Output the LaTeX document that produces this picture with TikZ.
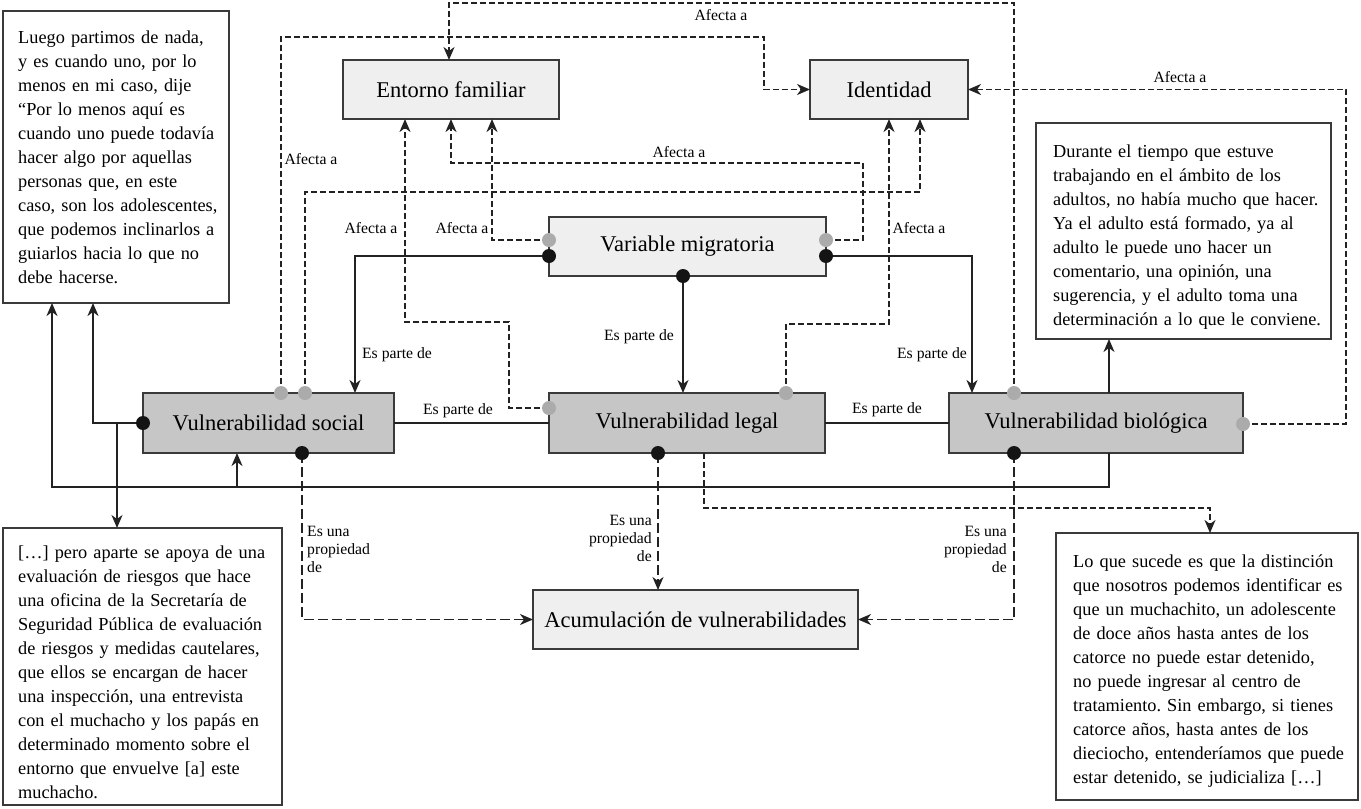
\documentclass[tikz,border=0pt]{standalone}
\usepackage{fontspec}
\setmainfont{Liberation Serif}
\usetikzlibrary{arrows.meta}
\frenchspacing

\definecolor{edgegrey}{HTML}{3A3A3A}
\definecolor{palefill}{HTML}{EFEFEF}
\definecolor{vulnfill}{HTML}{C6C6C6}
\definecolor{dotgrey}{HTML}{ABABAB}
\definecolor{inkline}{HTML}{222222}

\begin{document}
\begin{tikzpicture}[x=1pt,y=-1pt,
  box/.style={draw=edgegrey, line width=1.5pt, inner sep=0pt, outer sep=0pt,
    font=\fontsize{22.5}{27}\selectfont},
  pale/.style={box, fill=palefill},
  vuln/.style={box, fill=vulnfill},
  qbox/.style={draw=edgegrey, line width=1.5pt, fill=white, inner sep=0pt, outer sep=0pt},
  qtext/.style={anchor=base west, inner sep=0pt, align=left, text width=300pt,
    font=\fontsize{18.3}{24}\selectfont},
  lbl/.style={inner sep=0pt, font=\fontsize{15.7}{18}\selectfont},
  link/.style={draw=inkline, line width=1.5pt},
  tip/.style={-{Stealth[length=13pt,width=11pt,inset=4pt]}},
  solidarr/.style={link, tip},
  affects/.style={link, dash pattern=on 6pt off 3pt, tip},
  property/.style={link, dash pattern=on 10pt off 4pt, tip},
  bdot/.style={circle, fill=black!92, minimum size=14pt, inner sep=0pt},
  gdot/.style={circle, fill=dotgrey, minimum size=14pt, inner sep=0pt}
]
\fill[white] (0,0) rectangle (1361,809);
\useasboundingbox (0,0) rectangle (1361,809);

% ---- concept boxes
\node[pale, minimum width=216pt, minimum height=59pt] (entorno) at (451,89.5) {Entorno familiar};
\node[pale, minimum width=158pt, minimum height=59pt] (identidad) at (889,89.5) {Identidad};
\node[pale, minimum width=277pt, minimum height=59pt] (vm) at (687.5,246.5) {Variable migratoria};
\node[vuln, minimum width=251pt, minimum height=60pt] (social) at (268.5,423) {Vulnerabilidad social};
\node[vuln, minimum width=276pt, minimum height=60pt] (legal) at (687,423) {Vulnerabilidad legal};
\node[vuln, minimum width=294pt, minimum height=60pt] (bio) at (1096,423) {Vulnerabilidad biológica};
\node[pale, minimum width=325pt, minimum height=59pt] (acum) at (695.5,619.5) {Acumulación de vulnerabilidades};

% ---- quotation boxes
\node[qbox, minimum width=226pt, minimum height=292pt] (q1) at (116,157) {};
\node[qtext] (q1t) at (18,43) {Luego partimos de nada,\\
y es cuando uno, por lo\\
menos en mi caso, dije\\
“Por lo menos aquí es\\
cuando uno puede todavía\\
hacer algo por aquellas\\
personas que, en este\\
caso, son los adolescentes,\\
que podemos inclinarlos a\\
guiarlos hacia lo que no\\
debe hacerse.};

\node[qbox, minimum width=295pt, minimum height=216pt] (q2) at (1183.5,231) {};
\node[qtext] (q2t) at (1053,157) {Durante el tiempo que estuve\\
trabajando en el ámbito de los\\
adultos, no había mucho que hacer.\\
Ya el adulto está formado, ya al\\
adulto le puede uno hacer un\\
comentario, una opinión, una\\
sugerencia, y el adulto toma una\\
determinación a lo que le conviene.};

\node[qbox, minimum width=279pt, minimum height=277pt] (q3) at (142.5,666.5) {};
\node[qtext] (q3t) at (18,558) {[…] pero aparte se apoya de una\\
evaluación de riesgos que hace\\
una oficina de la Secretaría de\\
Seguridad Pública de evaluación\\
de riesgos y medidas cautelares,\\
que ellos se encargan de hacer\\
una inspección, una entrevista\\
con el muchacho y los papás en\\
determinado momento sobre el\\
entorno que envuelve [a] este\\
muchacho.};

\node[qbox, minimum width=302pt, minimum height=267pt] (q4) at (1207,666.5) {};
\node[qtext] (q4t) at (1073,567) {Lo que sucede es que la distinción\\
que nosotros podemos identificar es\\
que un muchachito, un adolescente\\
de doce años hasta antes de los\\
catorce no puede estar detenido,\\
no puede ingresar al centro de\\
tratamiento. Sin embargo, si tienes\\
catorce años, hasta antes de los\\
dieciocho, entenderíamos que puede\\
estar detenido, se judicializa […]};

% ---- connection points on the box borders
\coordinate (vmL) at (549,256);
\coordinate (vmB) at (683,276);
\coordinate (vmR) at (826,256);
\coordinate (socL) at (143,423);
\coordinate (socB) at (302,453);
\coordinate (legB) at (658,453);
\coordinate (bioB) at (1014,453);
\coordinate (vmGL) at (549,240);
\coordinate (vmGR) at (826,240);
\coordinate (socG1) at (281,393);
\coordinate (socG2) at (305,393);
\coordinate (legGL) at (549,408);
\coordinate (legGR) at (786,393);
\coordinate (bioGT) at (1014,393);
\coordinate (bioGR) at (1243,424);
\coordinate (split) at (117,423);

% ---- "Es parte de" links
\draw[solidarr] (vmL) -| ([xshift=86.5pt]social.north);
\draw[solidarr] (vmB) -- (vmB |- legal.north);
\draw[solidarr] (vmR) -| ([xshift=-124pt]bio.north);
\draw[link] (social.east) -- (legal.west);
\draw[link] (legal.east) -- (bio.west);
\node[lbl] (lp1) at (397,355) {Es parte de};
\node[lbl] (lp2) at (639,337) {Es parte de};
\node[lbl] (lp3) at (932,355) {Es parte de};
\node[lbl] (lp4) at (458,411) {Es parte de};
\node[lbl] (lp5) at (887,410) {Es parte de};

% ---- links to the quotations
\draw[solidarr] (socL) -| ([xshift=-23pt]q1.south);
\draw[solidarr] (split) -- (split |- q3.north);
\draw[solidarr] ([xshift=13pt]bio.south) -- ++(0,34) -| ([xshift=-64pt]q1.south);
\draw[solidarr] ([xshift=-31.5pt,yshift=-34pt]social.south) -- ([xshift=-31.5pt]social.south);
\draw[solidarr] ([xshift=13pt]bio.north) -- ([xshift=13pt]bio.north |- q2.south);
\draw[affects] ([xshift=17pt]legal.south) -- ++(0,55) -| ([xshift=3pt]q4.north);

% ---- "Es una propiedad de" links
\draw[property] (socB) |- (acum.west);
\draw[property] (legB) -- (legB |- acum.north);
\draw[property] (bioB) |- (acum.east);
\node[lbl, anchor=west, align=left] (pr1) at (307,549) {Es una\\propiedad\\de};
\node[lbl, anchor=east, align=right] (pr2) at (652,538) {Es una\\propiedad\\de};
\node[lbl, anchor=east, align=right] (pr3) at (1007,549) {Es una\\propiedad\\de};

% ---- "Afecta a" links
\draw[affects] (socG1) -- ++(0,-356) -- ++(483,0) |- (identidad.west);
\draw[affects] (socG2) -- ++(0,-201) -| ([xshift=31pt]identidad.south);
\draw[affects] (vmGL) -| ([xshift=41pt]entorno.south);
\draw[affects] (vmGR) -- ++(37,0) -- ++(0,-77) -| (entorno.south);
\draw[affects] (legGL) -- ++(-40,0) -- ++(0,-86) -| ([xshift=-46pt]entorno.south);
\draw[affects] (legGR) -- ++(0,-69) -| (identidad.south);
\draw[affects] (bioGT) -- ++(0,-390) -| ([xshift=-2pt]entorno.north);
\draw[affects] (bioGR) -- ++(103,0) |- (identidad.east);
\node[lbl] (la1) at (721,15) {Afecta a};
\node[lbl] (la2) at (311,159) {Afecta a};
\node[lbl] (la3) at (371,228) {Afecta a};
\node[lbl] (la4) at (462,228) {Afecta a};
\node[lbl] (la5) at (679,152) {Afecta a};
\node[lbl] (la6) at (919,228) {Afecta a};
\node[lbl] (la7) at (1180,77) {Afecta a};

% ---- dots drawn over the line ends
\foreach \p in {vmL,vmB,vmR,socL,socB,legB,bioB}
  \node[bdot] at (\p) {};
\foreach \p in {vmGL,vmGR,socG1,socG2,legGL,legGR,bioGT,bioGR}
  \node[gdot] at (\p) {};
\end{tikzpicture}
\end{document}
